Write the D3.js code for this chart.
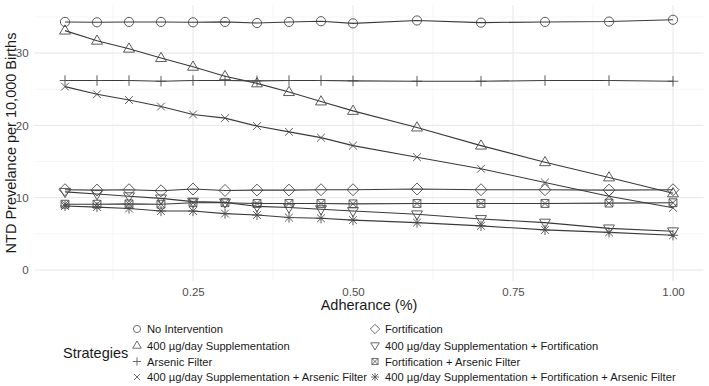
<!DOCTYPE html>
<html lang="en">
<head>
<meta charset="UTF-8">
<title>NTD Prevalence</title>
<style>
  body { margin: 0; background: #fff; }
  text { font-family: "Liberation Sans", Arial, sans-serif; }
</style>
<script src="https://d3js.org/d3.v7.min.js"></script>
</head>
<body>
<script>
// data
const adherence = [0.05, 0.1, 0.15, 0.2, 0.25, 0.3, 0.35, 0.4, 0.45, 0.5, 0.6, 0.7, 0.8, 0.9, 1.0];

const noIntervention = [34.3, 34.25, 34.3, 34.3, 34.25, 34.3, 34.15, 34.3, 34.4, 34.1, 34.5, 34.2, 34.3, 34.35, 34.6];
const supplementation = [33.1, 31.7, 30.6, 29.3, 28.1, 26.8, 25.8, 24.6, 23.3, 22.0, 19.7, 17.2, 14.9, 12.8, 10.6];
const arsenicFilter = [26.2, 26.2, 26.2, 26.1, 26.2, 26.2, 26.15, 26.2, 26.2, 26.15, 26.1, 26.1, 26.2, 26.2, 26.1];
const suppArsenic = [25.35, 24.3, 23.5, 22.6, 21.5, 21.0, 19.9, 19.1, 18.3, 17.2, 15.6, 14.0, 12.1, 10.2, 8.6];
const fortification = [11.1, 11.05, 11.1, 10.95, 11.2, 11.0, 11.05, 11.05, 11.1, 11.1, 11.2, 11.1, 11.1, 11.05, 11.1];
const suppFortification = [10.8, 10.5, 10.2, 9.9, 9.45, 9.35, 8.8, 8.65, 8.4, 8.15, 7.7, 7.05, 6.55, 5.75, 5.35];
const fortArsenic = [9.1, 9.1, 9.15, 9.1, 9.3, 9.3, 9.2, 9.2, 9.2, 9.15, 9.2, 9.2, 9.2, 9.25, 9.3];
const suppFortArsenic = [8.85, 8.7, 8.5, 8.15, 8.15, 7.8, 7.6, 7.25, 7.15, 6.9, 6.55, 6.1, 5.55, 5.2, 4.8];

const strategyNames = [
  "No Intervention",
  "400 µg/day Supplementation",
  "Arsenic Filter",
  "400 µg/day Supplementation + Arsenic Filter",
  "Fortification",
  "400 µg/day Supplementation + Fortification",
  "Fortification + Arsenic Filter",
  "400 µg/day Supplementation + Fortification + Arsenic Filter"
];
const shapes = ["circle", "triangle", "plus", "cross", "diamond", "triangleDown", "squareCross", "asterisk"];
const seriesValues = [noIntervention, supplementation, arsenicFilter, suppArsenic,
  fortification, suppFortification, fortArsenic, suppFortArsenic];

const xTicks = [0.25, 0.5, 0.75, 1.0];
const yTicks = [0, 10, 20, 30];

const width = 709, height = 386;

const svg = d3.select("body").append("svg")
  .attr("width", width)
  .attr("height", height);

const x = d3.scaleLinear().domain([0.0025, 1.0475]).range([34.6, 703.4]);
const y = d3.scaleLinear().domain([-1.52, 36.64]).range([281, 5]);

// grid
const grid = svg.append("g");
const xMinor = [0.125, 0.375, 0.625, 0.875];
const yMinor = [5, 15, 25, 35];
grid.selectAll(".xminor").data(xMinor).join("line")
  .attr("x1", d => x(d)).attr("x2", d => x(d))
  .attr("y1", y.range()[0]).attr("y2", y.range()[1])
  .attr("stroke", "#f2f2f2").attr("stroke-width", 0.6);
grid.selectAll(".yminor").data(yMinor).join("line")
  .attr("x1", x.range()[0]).attr("x2", x.range()[1])
  .attr("y1", d => y(d)).attr("y2", d => y(d))
  .attr("stroke", "#f2f2f2").attr("stroke-width", 0.6);
grid.selectAll(".xmajor").data(xTicks).join("line")
  .attr("x1", d => x(d)).attr("x2", d => x(d))
  .attr("y1", y.range()[0]).attr("y2", y.range()[1])
  .attr("stroke", "#e6e6e6").attr("stroke-width", 1);
grid.selectAll(".ymajor").data(yTicks).join("line")
  .attr("x1", x.range()[0]).attr("x2", x.range()[1])
  .attr("y1", d => y(d)).attr("y2", d => y(d))
  .attr("stroke", "#e6e6e6").attr("stroke-width", 1);

// axes (labels only, like theme_minimal)
const xAxis = svg.append("g")
  .attr("transform", `translate(0,${y.range()[0]})`)
  .call(d3.axisBottom(x).tickValues(xTicks).tickFormat(d3.format(".2f")).tickSize(0).tickPadding(6.5));
const yAxis = svg.append("g")
  .attr("transform", `translate(${x.range()[0]},0)`)
  .call(d3.axisLeft(y).tickValues(yTicks).tickSize(0).tickPadding(6));
[xAxis, yAxis].forEach(a => {
  a.select(".domain").remove();
  a.selectAll("text").attr("fill", "#4d4d4d").style("font-size", "11.5px");
});

svg.append("text")
  .attr("x", 369).attr("y", 309.5)
  .attr("text-anchor", "middle")
  .style("font-size", "14.5px").attr("fill", "#1a1a1a")
  .text("Adherance (%)");
svg.append("text")
  .attr("transform", "translate(16,143) rotate(-90)")
  .attr("text-anchor", "middle")
  .style("font-size", "14.5px").attr("fill", "#1a1a1a")
  .text("NTD Prevelance per 10,000 Births");

// marker paths
function shapePath(type, r) {
  const p = d3.path();
  if (type === "circle") {
    p.moveTo(r, 0); p.arc(0, 0, r, 0, 2 * Math.PI);
  } else if (type === "triangle") {
    const h = r * 1.25;
    p.moveTo(0, -h); p.lineTo(h * 0.95, h * 0.6); p.lineTo(-h * 0.95, h * 0.6); p.closePath();
  } else if (type === "triangleDown") {
    const h = r * 1.25;
    p.moveTo(0, h); p.lineTo(h * 0.95, -h * 0.6); p.lineTo(-h * 0.95, -h * 0.6); p.closePath();
  } else if (type === "plus") {
    const h = r * 1.15;
    p.moveTo(-h, 0); p.lineTo(h, 0); p.moveTo(0, -h); p.lineTo(0, h);
  } else if (type === "cross") {
    const h = r * 0.85;
    p.moveTo(-h, -h); p.lineTo(h, h); p.moveTo(-h, h); p.lineTo(h, -h);
  } else if (type === "diamond") {
    const h = r * 1.3;
    p.moveTo(0, -h); p.lineTo(h, 0); p.lineTo(0, h); p.lineTo(-h, 0); p.closePath();
  } else if (type === "squareCross") {
    const h = r * 0.85;
    p.rect(-h, -h, 2 * h, 2 * h);
    p.moveTo(-h, -h); p.lineTo(h, h); p.moveTo(-h, h); p.lineTo(h, -h);
  } else if (type === "asterisk") {
    const h = r * 0.85, k = r * 1.1;
    p.moveTo(-h, -h); p.lineTo(h, h); p.moveTo(-h, h); p.lineTo(h, -h);
    p.moveTo(-k, 0); p.lineTo(k, 0); p.moveTo(0, -k); p.lineTo(0, k);
  }
  return p.toString();
}

const series = strategyNames.map((name, i) => ({
  name: name,
  shape: shapes[i],
  points: adherence.map((a, j) => ({ a: a, v: seriesValues[i][j] }))
}));

const line = d3.line().x(d => x(d.a)).y(d => y(d.v));

svg.append("g").selectAll("path")
  .data(series).join("path")
  .attr("d", d => line(d.points))
  .attr("fill", "none")
  .attr("stroke", "#3a3a3a")
  .attr("stroke-width", 1.1);

svg.append("g").selectAll("g")
  .data(series).join("g")
  .each(function(s) {
    d3.select(this).selectAll("path")
      .data(s.points).join("path")
      .attr("transform", d => `translate(${x(d.a)},${y(d.v)})`)
      .attr("d", shapePath(s.shape, 4.6))
      .attr("fill", "none")
      .attr("stroke", "#4a4a4a")
      .attr("stroke-width", 0.9);
  });

// legend
const legend = svg.append("g");
legend.append("text")
  .attr("x", 63).attr("y", 358)
  .style("font-size", "14.5px").attr("fill", "#1a1a1a")
  .text("Strategies");

const colX = [137, 375];
const rowY = [329, 345.5, 361.5, 377];
strategyNames.forEach((name, i) => {
  const col = Math.floor(i / 4), row = i % 4;
  const g = legend.append("g").attr("transform", `translate(${colX[col]},${rowY[row]})`);
  g.append("path")
    .attr("d", shapePath(shapes[i], 3.6))
    .attr("fill", "none").attr("stroke", "#4a4a4a").attr("stroke-width", 0.8);
  g.append("text")
    .attr("x", 10).attr("y", 4)
    .style("font-size", "11.2px").attr("fill", "#1a1a1a")
    .text(name);
});
</script>
</body>
</html>
